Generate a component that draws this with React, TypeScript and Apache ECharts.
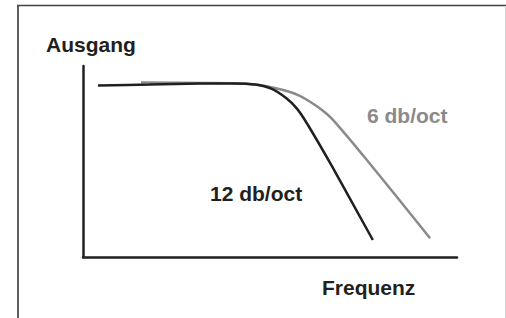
import React, { useEffect, useRef } from "react";
import * as echarts from "echarts";

// Curve readings (x: frequency 0..100, y: output 0..100)
const black12X = [4.0, 17.9, 31.3, 40.1, 46.0, 50.5, 54.3, 57.2, 59.9, 66.6, 77.5];
const black12Y = [89.8, 90.3, 90.8, 90.9, 90.3, 88.0, 83.2, 77.7, 69.9, 47.4, 8.9];
const gray6X = [15.5, 31.3, 42.8, 48.7, 53.5, 57.5, 60.7, 63.9, 66.9, 75.9, 92.8];
const gray6Y = [91.4, 91.1, 90.8, 89.5, 87.4, 84.8, 81.3, 77.0, 71.7, 50.8, 9.8];

const yAxisName = "Ausgang";
const xAxisName = "Frequenz";
const label6 = "6 db/oct";
const label12 = "12 db/oct";

const FONT = 'bold 21px "Liberation Sans", Arial, sans-serif';
const DARK = "#231f20";
const GRAY = "#8a8a8a";

export default function App() {
  const ref = useRef<HTMLDivElement>(null);
  useEffect(() => {
    document.body.style.margin = "0";
    const chart = echarts.init(ref.current!, null, { renderer: "svg" });
    const zip = (xs: number[], ys: number[]) => xs.map((x, i) => [x, ys[i]]);
    chart.setOption({
      animation: false,
      backgroundColor: "#ffffff",
      grid: { left: 83, right: 49, top: 66, bottom: 61 },
      xAxis: {
        type: "value",
        min: 0,
        max: 100,
        axisLine: { show: true, onZero: false, lineStyle: { color: DARK, width: 2.5 } },
        axisTick: { show: false },
        axisLabel: { show: false },
        splitLine: { show: false },
      },
      yAxis: {
        type: "value",
        min: 0,
        max: 100,
        axisLine: { show: true, onZero: false, lineStyle: { color: DARK, width: 2.5 } },
        axisTick: { show: false },
        axisLabel: { show: false },
        splitLine: { show: false },
      },
      series: [
        {
          name: label6,
          type: "line",
          data: zip(gray6X, gray6Y),
          smooth: 0.3,
          showSymbol: false,
          lineStyle: { color: GRAY, width: 2.5 },
          z: 2,
        },
        {
          name: label12,
          type: "line",
          data: zip(black12X, black12Y),
          smooth: 0.3,
          showSymbol: false,
          lineStyle: { color: DARK, width: 2.5 },
          z: 3,
        },
      ],
      graphic: [
        { type: "line", shape: { x1: 18, y1: 5.5, x2: 18, y2: 318 }, style: { stroke: "#444", lineWidth: 1.7 } },
        { type: "line", shape: { x1: 17, y1: 5.5, x2: 506, y2: 5.5 }, style: { stroke: "#444", lineWidth: 1.5 } },
        { type: "line", shape: { x1: 505.5, y1: 6, x2: 505.5, y2: 318 }, style: { stroke: "#d0d0d0", lineWidth: 1 } },
        { type: "text", x: 46, y: 44, style: { text: yAxisName, font: FONT, fill: DARK, textVerticalAlign: "middle" } },
        { type: "text", x: 322, y: 287, style: { text: xAxisName, font: FONT, fill: DARK, textVerticalAlign: "middle" } },
        { type: "text", x: 367, y: 115, style: { text: label6, font: FONT, fill: GRAY, textVerticalAlign: "middle" } },
        { type: "text", x: 210, y: 193, style: { text: label12, font: FONT, fill: DARK, textVerticalAlign: "middle" } },
      ],
    });
    return () => chart.dispose();
  }, []);
  return <div ref={ref} style={{ width: 506, height: 318 }} />;
}
